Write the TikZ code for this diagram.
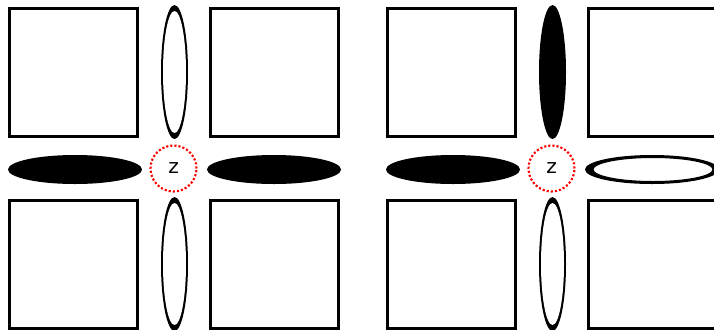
\documentclass[tikz,border=0pt]{standalone}
\usepackage{fontspec}
\setmainfont{DejaVu Sans}
\usetikzlibrary{shapes.geometric}
\def \o{378}

\tikzset{
  sq/.style={shape=rectangle, draw=black, line width=2.25pt, minimum size=96pt, inner sep=0pt},
  vfull/.style={shape=ellipse, fill=black, minimum width=20.25pt, minimum height=100.5pt, inner sep=0pt},
  vhole/.style={shape=ellipse, fill=white, minimum width=17.25pt, minimum height=91.5pt, inner sep=0pt},
  hfull/.style={shape=ellipse, fill=black, minimum width=100.5pt, minimum height=21.75pt, inner sep=0pt},
  hhole/.style={shape=ellipse, fill=white, draw=black, line width=0.75pt, minimum width=90pt, minimum height=18pt, inner sep=0pt},
  zone/.style={shape=circle, draw=red, line width=1.6pt, dash pattern=on 1.6pt off 1.5pt, minimum size=34.5pt, inner sep=0pt, font=\fontsize{15}{18}\selectfont}
}

\begin{document}
\begin{tikzpicture}[x=0.75pt, y=-0.75pt]
    \useasboundingbox (0, 0) rectangle (714, 329);
    % left panel
    \node[sq] (A1) at (73.5, 72) {};
    \node[sq] (B1) at (274.5, 72) {};
    \node[sq] (C1) at (73.5, 264) {};
    \node[sq] (D1) at (274.5, 264) {};
    \node[hfull] (L1) at (75, 169.5) {};
    \node[hfull] (R1) at (274, 169.5) {};
    \node[vfull] (T1) at (174.5, 72) {};
    \node[vhole] (T1h) at (174.5, 72) {};
    \node[vfull] (B1e) at (174.5, 264) {};
    \node[vhole] (B1h) at (174.5, 264) {};
    \node[zone] (Z1) at (173.5, 168.5) {z};
    % right panel
    \node[sq] (A2) at (73.5+\o, 72) {};
    \node[sq] (B2) at (274.5+\o, 72) {};
    \node[sq] (C2) at (73.5+\o, 264) {};
    \node[sq] (D2) at (274.5+\o, 264) {};
    \node[hfull] (L2) at (75+\o, 169.5) {};
    \node[hfull] (R2) at (274+\o, 169.5) {};
    \node[hhole] (R2h) at (275+\o, 169.5) {};
    \node[vfull] (T2) at (174.5+\o, 72) {};
    \node[vfull] (B2e) at (174.5+\o, 264) {};
    \node[vhole] (B2h) at (174.5+\o, 264) {};
    \node[zone] (Z2) at (173.5+\o, 168.5) {z};
\end{tikzpicture}
\end{document}
